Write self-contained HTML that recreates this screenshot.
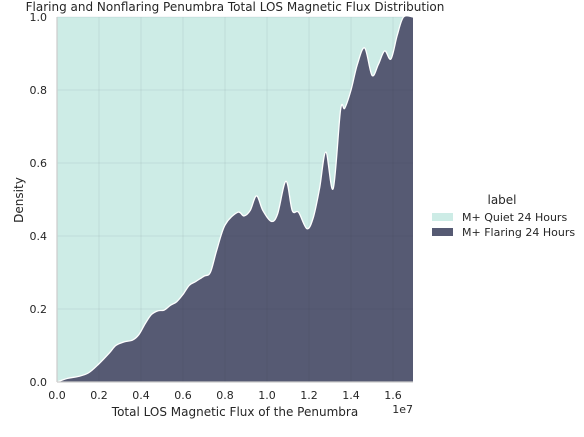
<!DOCTYPE html>
<html><head><meta charset="utf-8"><style>
body{margin:0;background:#fff;font-family:"Liberation Sans","DejaVu Sans",sans-serif;}
</style></head><body>
<svg width="584" height="432" xmlns="http://www.w3.org/2000/svg" font-family="'DejaVu Sans','Liberation Sans',sans-serif">
<g id="plot"></g>
</svg>
<script>
const xs=[0,0.05,0.1,0.15,0.2,0.25,0.28,0.32,0.36,0.39,0.42,0.45,0.48,0.51,0.54,0.57,0.6,0.63,0.66,0.7,0.73,0.76,0.8,0.86,0.89,0.92,0.95,0.98,1.02,1.05,1.09,1.12,1.15,1.19,1.22,1.25,1.28,1.315,1.35,1.37,1.4,1.43,1.465,1.5,1.53,1.56,1.59,1.62,1.65,1.695];
const flaring=[0,0.01,0.015,0.025,0.05,0.08,0.10,0.11,0.115,0.13,0.16,0.185,0.195,0.197,0.21,0.22,0.24,0.265,0.275,0.29,0.30,0.36,0.43,0.465,0.455,0.47,0.51,0.47,0.44,0.46,0.55,0.47,0.465,0.42,0.45,0.53,0.63,0.53,0.745,0.75,0.80,0.87,0.915,0.84,0.87,0.907,0.885,0.95,1.0,1.0];
const xTicks=[0,0.2,0.4,0.6,0.8,1.0,1.2,1.4,1.6];
const yTicks=[0,0.2,0.4,0.6,0.8,1.0];
const legendLabels=["M+ Quiet 24 Hours","M+ Flaring 24 Hours"];
const NS="http://www.w3.org/2000/svg";
const L=57,R=413,T=17,B=382,XMAX=1.695;
const sx=v=>L+v/XMAX*(R-L), sy=v=>B-v*(B-T);
const g=document.getElementById('plot');
function mk(t,a,p){const e=document.createElementNS(NS,t);for(const k in a)e.setAttribute(k,a[k]);(p||g).appendChild(e);return e;}
let bg=mk('rect',{x:L,y:T,width:R-L,height:B-T,fill:'#cdece6'});


const pts=xs.map((x,i)=>[sx(x),sy(flaring[i])]);
let d='M'+pts[0][0]+','+pts[0][1];
for(let i=0;i<pts.length-1;i++){const p0=pts[Math.max(0,i-1)],p1=pts[i],p2=pts[i+1],p3=pts[Math.min(pts.length-1,i+2)];
d+=' C'+(p1[0]+(p2[0]-p0[0])/6)+','+(p1[1]+(p2[1]-p0[1])/6)+' '+(p2[0]-(p3[0]-p1[0])/6)+','+(p2[1]-(p3[1]-p1[1])/6)+' '+p2[0]+','+p2[1];}
let fa=mk('path',{d:d+' L'+R+','+B+' L'+L+','+B+' Z',fill:'#565a73'});


xTicks.forEach(t=>{let l=mk('line',{x1:sx(t),x2:sx(t),y1:T,y2:B,stroke:'rgba(40,50,70,0.08)','stroke-width':1});


let tx=mk('text',{x:sx(t),y:399,'font-size':11,'text-anchor':'middle',fill:'#262626'});tx.textContent=t.toFixed(1);

});
yTicks.forEach(t=>{let l=mk('line',{x1:L,x2:R,y1:sy(t),y2:sy(t),stroke:'rgba(40,50,70,0.08)','stroke-width':1});


let tx=mk('text',{x:47,y:sy(t)+4,'font-size':11,'text-anchor':'end',fill:'#262626'});tx.textContent=t.toFixed(1);

});
let bd=mk('path',{d:d,fill:'none',stroke:'#fff','stroke-width':1.3});


let sp=mk('line',{x1:L,x2:L,y1:T,y2:B,stroke:'#ccc','stroke-width':1.2});


let sp2=mk('line',{x1:L,x2:R,y1:B,y2:B,stroke:'#ccc','stroke-width':1.2});


function txt(s,a,name){let e=mk('text',a);e.textContent=s;return e;}
txt('Flaring and Nonflaring Penumbra Total LOS Magnetic Flux Distribution',{x:235,y:11,'font-size':12,'text-anchor':'middle',fill:'#262626'},'chart-title');
txt('Total LOS Magnetic Flux of the Penumbra',{x:235,y:416,'font-size':12,'text-anchor':'middle',fill:'#262626'},'x-axis-title');
txt('1e7',{x:413,y:413,'font-size':11,'text-anchor':'end',fill:'#262626'},'x-axis-offset');
txt('Density',{x:23,y:200,'font-size':12,'text-anchor':'middle',fill:'#262626',transform:'rotate(-90 23 200)'},'y-axis-title');
txt('label',{x:502,y:204,'font-size':12,'text-anchor':'middle',fill:'#262626'},'legend-title');
const cols=['#cdece6','#565a73'];
legendLabels.forEach((s,i)=>{let r=mk('rect',{x:432,y:213+i*15,width:21,height:8,fill:cols[i]});


txt(s,{x:462,y:221+i*15,'font-size':11,fill:'#262626'},'legend-entry');});
</script>
</body></html>
